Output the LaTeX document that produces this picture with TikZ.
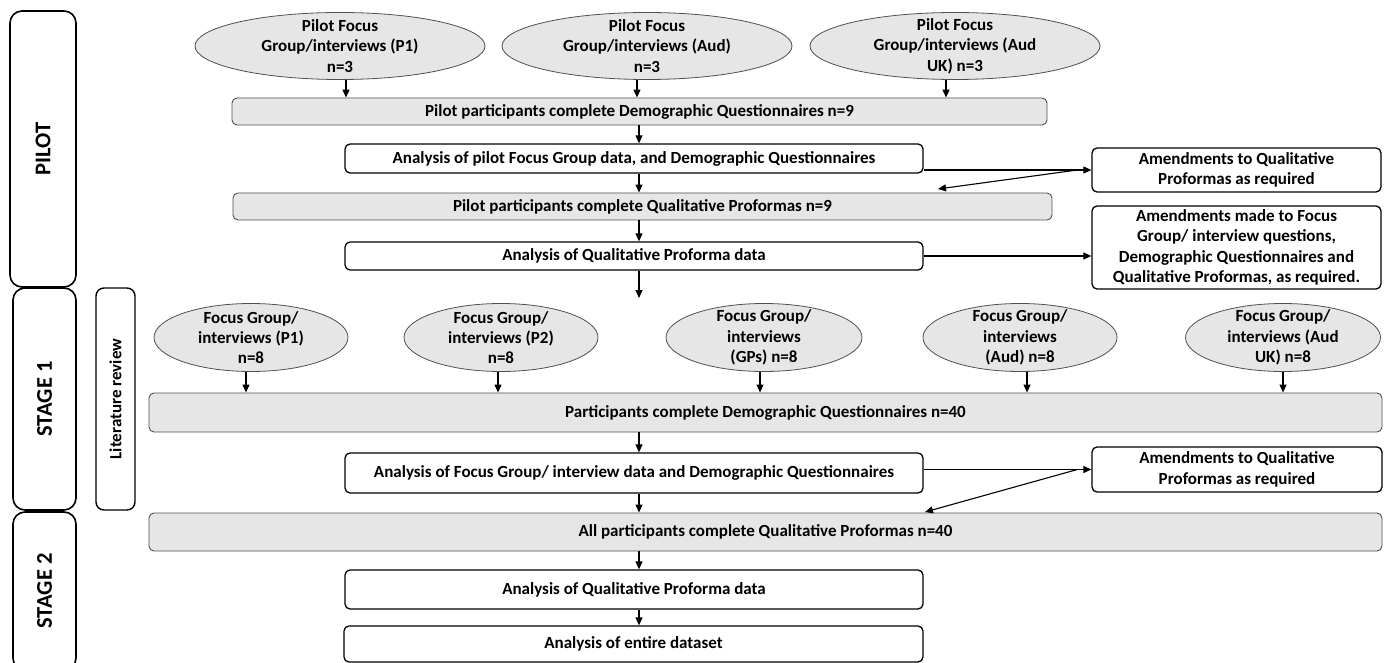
\documentclass[tikz,border=0pt]{standalone}
\usepackage{fontspec}
\setmainfont{Carlito}
\usetikzlibrary{arrows.meta,shapes.geometric}
\definecolor{boxgray}{HTML}{E6E6E6}
\definecolor{edgegray}{HTML}{505050}
\begin{document}
\begin{tikzpicture}[x=1pt,y=-1pt,
  font=\fontsize{17}{20.4}\selectfont\bfseries,
  wbox/.style={draw=black, line width=1.3pt, rounded corners=5pt, fill=white, align=center, inner sep=0pt},
  gbox/.style={draw=edgegray, line width=0.9pt, rounded corners=5pt, fill=boxgray, align=center, inner sep=0pt},
  ell/.style={ellipse, draw=edgegray, line width=0.8pt, fill=boxgray, inner sep=0pt},
  etext/.style={align=center, inner sep=0pt},
  stagebox/.style={draw=black, line width=1.6pt, rounded corners=12pt, inner sep=0pt, rotate=90},
  arr/.style={-{Triangle[length=8pt,width=7pt]}, line width=1.1pt}
]
\useasboundingbox (0,0) rectangle (1389,663);

% stage labels
\node[stagebox, minimum width=276, minimum height=66, font=\fontsize{22.5}{26}\selectfont\bfseries] (pilot) at (43,149) {PILOT};
\node[stagebox, minimum width=222, minimum height=63, font=\fontsize{22.5}{26}\selectfont\bfseries] (stage1) at (44.5,399) {STAGE 1};
\node[stagebox, minimum width=158, minimum height=63, font=\fontsize{22.5}{26}\selectfont\bfseries] (stage2) at (44.5,591) {STAGE 2};
\node[stagebox, line width=1.4pt, rounded corners=8pt, minimum width=222, minimum height=39] (lit) at (115.5,399) {Literature review};

\coordinate (mainx) at (639,0);

% pilot ellipses
\node[ell, minimum width=290, minimum height=67] (e1) at (340,46) {};
\node[etext] (e1t) at (e1) {Pilot Focus\\Group/interviews (P1)\\n=3};
\node[ell, minimum width=290, minimum height=67] (e2) at (647,46) {};
\node[etext] (e2t) at (e2) {Pilot Focus\\Group/interviews (Aud)\\n=3};
\node[ell, minimum width=290, minimum height=67] (e3) at (955,46) {};
\node[etext] (e3t) at (e3) {Pilot Focus\\Group/interviews (Aud\\UK) n=3};

% pilot boxes
\node[gbox, minimum width=815, minimum height=27] (dq1) at (639.5,111.5) {Pilot participants complete Demographic Questionnaires n=9};
\node[wbox, minimum width=578, minimum height=29] (an1) at (634,158.5) {Analysis of pilot Focus Group data, and Demographic Questionnaires};
\node[gbox, minimum width=819, minimum height=27] (qp1) at (642.5,206.5) {Pilot participants complete Qualitative Proformas n=9};
\node[wbox, minimum width=578, minimum height=28] (an2) at (634,256) {Analysis of Qualitative Proforma data};
\node[wbox, minimum width=289, minimum height=44] (am1) at (1236.5,170) {Amendments to Qualitative\\Proformas as required};
\node[wbox, minimum width=289, minimum height=83] (am2) at (1236.5,247.5) {Amendments made to Focus\\Group/ interview questions,\\Demographic Questionnaires and\\Qualitative Proformas, as required.};

% stage 1 ellipses
\node[ell, minimum width=194, minimum height=68] (f1) at (251,337.5) {};
\node[etext] (f1t) at (f1) {Focus Group/\\interviews (P1)\\n=8};
\node[ell, minimum width=194, minimum height=68] (f2) at (501,337.5) {};
\node[etext] (f2t) at (f2) {Focus Group/\\interviews (P2)\\n=8};
\node[ell, minimum width=196, minimum height=68] (f3) at (764,337.5) {};
\node[etext] (f3t) at (f3) {Focus Group/\\interviews\\(GPs) n=8};
\node[ell, minimum width=194, minimum height=68] (f4) at (1020,337.5) {};
\node[etext] (f4t) at (f4) {Focus Group/\\interviews\\(Aud) n=8};
\node[ell, minimum width=195, minimum height=68] (f5) at (1283,337.5) {};
\node[etext] (f5t) at (f5) {Focus Group/\\interviews (Aud\\UK) n=8};

% stage 1/2 boxes
\node[gbox, minimum width=1233, minimum height=39] (dq2) at (765.5,412.5) {Participants complete Demographic Questionnaires n=40};
\node[wbox, minimum width=578, minimum height=40] (an3) at (634,473) {Analysis of Focus Group/ interview data and Demographic Questionnaires};
\node[wbox, minimum width=290, minimum height=45] (am3) at (1237,469.5) {Amendments to Qualitative\\Proformas as required};
\node[gbox, minimum width=1233, minimum height=38] (qp2) at (765.5,532) {All participants complete Qualitative Proformas n=40};
\node[wbox, minimum width=578, minimum height=39] (an4) at (634,589.5) {Analysis of Qualitative Proforma data};
\node[wbox, minimum width=579, minimum height=36] (an5) at (633.5,644) {Analysis of entire dataset};

% pilot arrows
\draw[arr] ([xshift=6pt]e1.south) -- ([xshift=6pt]e1.south |- dq1.north);
\draw[arr] ([xshift=-10pt]e2.south) -- ([xshift=-10pt]e2.south |- dq1.north);
\draw[arr] ([xshift=-9pt]e3.south) -- ([xshift=-9pt]e3.south |- dq1.north);
\draw[arr] (dq1.south -| mainx) -- (an1.north -| mainx);
\draw[arr] (an1.south -| mainx) -- (qp1.north -| mainx);
\draw[arr] (qp1.south -| mainx) -- (an2.north -| mainx);
\coordinate (s1in) at (639,298);
\draw[arr] (an2.south -| mainx) -- (s1in);
\draw[arr] (an1.east |- am1.west) -- (am1.west);
\coordinate (b1) at ([xshift=-14pt]am1.west);
\coordinate (t1) at (938,189);
\draw[arr] (b1) -- (t1);
\draw[arr] (an2.east) -- (an2.east -| am2.west);

% stage 1 arrows
\draw[arr] ([xshift=-5pt]f1.south) -- ([xshift=-5pt]f1.south |- dq2.north);
\draw[arr] ([xshift=-3pt]f2.south) -- ([xshift=-3pt]f2.south |- dq2.north);
\draw[arr] ([xshift=-4pt]f3.south) -- ([xshift=-4pt]f3.south |- dq2.north);
\draw[arr] ([xshift=7pt]f4.south) -- ([xshift=7pt]f4.south |- dq2.north);
\draw[arr] (f5.south) -- (f5.south |- dq2.north);
\draw[arr] (dq2.south -| mainx) -- (an3.north -| mainx);
\draw[arr] (an3.south -| mainx) -- (qp2.north -| mainx);
\draw[arr] (an3.east |- am3.west) -- (am3.west);
\coordinate (b3) at ([xshift=-14pt]am3.west);
\coordinate (t3) at (925,512);
\draw[arr] (b3) -- (t3);
\draw[arr] (qp2.south -| mainx) -- (an4.north -| mainx);
\draw[arr] (an4.south -| mainx) -- (an5.north -| mainx);
\end{tikzpicture}
\end{document}
